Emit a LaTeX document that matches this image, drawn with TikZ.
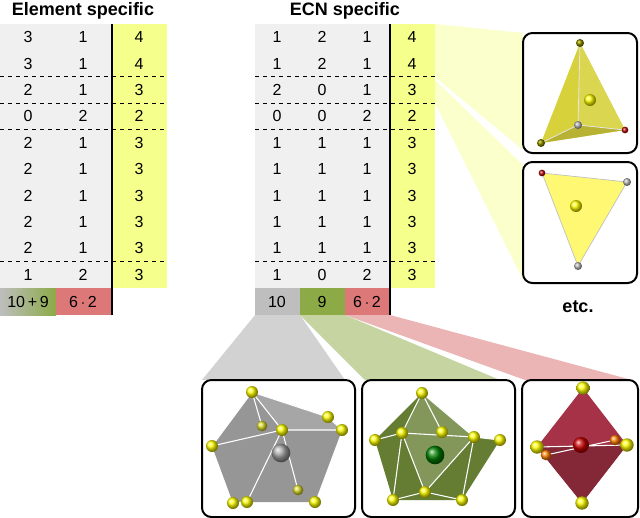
\documentclass[tikz,border=0pt]{standalone}
\usepackage{fontspec}
\setmainfont{Liberation Sans}
\usetikzlibrary{calc}
\definecolor{cellgray}{RGB}{240,240,240}
\definecolor{cellyel}{RGB}{245,255,140}
\definecolor{fgray}{RGB}{190,190,190}
\definecolor{fgreen}{RGB}{140,170,70}
\definecolor{fred}{RGB}{220,120,120}
\definecolor{polygray}{RGB}{150,150,150}
\definecolor{polygreen}{RGB}{100,125,50}
\definecolor{polyred}{RGB}{165,50,70}
\definecolor{tetra}{RGB}{215,210,60}
\tikzset{
  cell/.style={font=\fontsize{12}{14}\selectfont},
  title/.style={font=\bfseries\fontsize{13.5}{16}\selectfont},
  panel/.style={draw=black,line width=1.5pt,rounded corners=7pt,fill=white},
  sep/.style={dashed,line width=0.6pt},
  ball/.style={shading=ball,ball color=#1},
  edge/.style={white,line width=0.8pt}
}
\begin{document}
\begin{tikzpicture}[x=0.75pt,y=-0.75pt]
      \useasboundingbox (0,0) rectangle (640,518);
      % fans
      \fill[cellyel!45] (435,24) -- (523,33) -- (523,150) -- (435,77) -- cycle;
      \fill[cellyel!45] (435,80) -- (523,165) -- (523,280) -- (435,103) -- cycle;
      \fill[fgray!70] (255,315) -- (300,315) -- (345,380) -- (202,380) -- cycle;
      \fill[fgreen!50] (300,315) -- (345,315) -- (500,380) -- (365,380) -- cycle;
      \fill[fred!55] (345,315) -- (390,315) -- (632,380) -- (525,380) -- cycle;
      % element specific table
      \node[title] (t1) at (83,11) {Element specific};
      \fill[cellgray] (0,24) rectangle (112,288);
      \fill[cellyel] (112,24) rectangle (167,288);
      \shade[left color=fgray,right color=fgreen] (0,288) rectangle (56,315);
      \fill[fred] (56,288) rectangle (111,315);
      \foreach \a/\b/\c [count=\i] in {3/1/4,3/1/4,2/1/3,0/2/2,2/1/3,2/1/3,2/1/3,2/1/3,2/1/3,1/2/3}{
        \node[cell] (e\i a) at (28,{24+26.4*(\i-0.5)}) {\a};
        \node[cell] (e\i b) at (83,{24+26.4*(\i-0.5)}) {\b};
        \node[cell] (e\i c) at (139,{24+26.4*(\i-0.5)}) {\c};
      }
      \foreach \k in {2,3,4,9}
        \draw[sep] (0,{24+26.4*\k}) -- (167,{24+26.4*\k});
      \draw[line width=1pt] (112,24) -- (112,315);
      \node[cell] (e10) at (28,301.5) {10\,+\,9};
      \node[cell] (e6) at (83,301.5) {6\,$\cdot$\,2};
      % ECN specific table
      \node[title] (t2) at (345,11) {ECN specific};
      \fill[cellgray] (255,24) rectangle (390,288);
      \fill[cellyel] (390,24) rectangle (435,288);
      \fill[fgray] (255,288) rectangle (300,315);
      \fill[fgreen] (300,288) rectangle (345,315);
      \fill[fred] (345,288) rectangle (390,315);
      \foreach \a/\b/\c/\d [count=\i] in {1/2/1/4,1/2/1/4,2/0/1/3,0/0/2/2,1/1/1/3,1/1/1/3,1/1/1/3,1/1/1/3,1/1/1/3,1/0/2/3}{
        \node[cell] (n\i a) at (277,{24+26.4*(\i-0.5)}) {\a};
        \node[cell] (n\i b) at (322,{24+26.4*(\i-0.5)}) {\b};
        \node[cell] (n\i c) at (367,{24+26.4*(\i-0.5)}) {\c};
        \node[cell] (n\i d) at (412,{24+26.4*(\i-0.5)}) {\d};
      }
      \foreach \k in {2,3,4,9}
        \draw[sep] (255,{24+26.4*\k}) -- (435,{24+26.4*\k});
      \draw[line width=1pt] (390,24) -- (390,315);
      \node[cell] (n10) at (277,301.5) {10};
      \node[cell] (n9) at (322,301.5) {9};
      \node[cell] (n6) at (367,301.5) {6\,$\cdot$\,2};
      % tetrahedron
      \draw[panel] (523,33) rectangle (637,153);
      \fill[tetra] (580,43) -- (541,143) -- (625,130) -- cycle;
      \fill[tetra!85!black] (541,143) -- (578,125) -- (625,130) -- cycle;
      \fill[tetra!90!white] (580,43) -- (578,125) -- (625,130) -- cycle;
      \draw[white!80!gray,line width=0.6pt] (580,43) -- (578,125) (541,143) -- (578,125) -- (625,130);
      \shade[ball=yellow] (590,100) circle[radius=4.5pt];
      \shade[ball=gray!60] (578,125) circle[radius=3pt];
      \shade[ball=olive] (580,43) circle[radius=3pt];
      \shade[ball=olive] (541,143) circle[radius=3pt];
      \shade[ball=red!70!black] (625,130) circle[radius=2.5pt];
      % triangle
      \draw[panel] (523,162) rectangle (637,283);
      \fill[yellow!55] (542,173) -- (627,182) -- (578,266) -- cycle;
      \draw[gray!50,line width=0.5pt] (542,173) -- (627,182) -- (578,266) -- cycle;
      \shade[ball=yellow] (576,206) circle[radius=4.5pt];
      \shade[ball=red!70!black] (542,173) circle[radius=2.5pt];
      \shade[ball=gray!60] (627,182) circle[radius=3pt];
      \shade[ball=gray!60] (578,266) circle[radius=3pt];
      \node[title] (etc) at (578,307) {etc.};
      % gray polyhedron
      \draw[panel] (202,380) rectangle (355,517);
      \fill[polygray] (252,392) -- (328,417) -- (342,430) -- (315,502) -- (247,502) -- (233,503) -- (212,446) -- cycle;
      \fill[polygray!85!white] (252,392) -- (282,430) -- (342,430) -- (328,417) -- cycle;
      \draw[edge] (252,392) -- (328,417) -- (342,430) (252,392) -- (282,430) -- (342,430)
        (212,446) -- (282,430) -- (247,502) (252,392) -- (212,446) (282,430) -- (298,490)
        (247,502) -- (233,503) (252,392) -- (262,426);
      \shade[ball=gray!70] (281,453) circle[radius=7pt];
      \foreach \p in {(252,392),(328,417),(342,430),(212,446),(282,430),(233,503),(247,502),(315,502)}
        \shade[ball=yellow] \p circle[radius=4.5pt];
      \foreach \p in {(262,426),(298,490)}
        \shade[ball=yellow!70!gray] \p circle[radius=4pt];
      % green polyhedron
      \draw[panel] (362,380) rectangle (515,517);
      \fill[polygreen] (422,393) -- (474,437) -- (500,440) -- (462,500) -- (393,500) -- (375,440) -- cycle;
      \fill[polygreen!80!white] (422,393) -- (402,433) -- (425,492) -- (474,437) -- cycle;
      \draw[edge] (422,393) -- (402,433) -- (425,492) -- (474,437) -- cycle
        (375,440) -- (402,433) -- (474,437) -- (500,440) (393,500) -- (425,492) -- (462,500)
        (402,433) -- (393,500) (474,437) -- (462,500) (422,393) -- (442,432);
      \shade[ball=green!50!black] (435,455) circle[radius=7pt];
      \foreach \p in {(422,393),(375,440),(402,433),(442,432),(474,437),(500,440),(393,500),(425,492),(462,500)}
        \shade[ball=yellow] \p circle[radius=4.5pt];
      % red octahedron
      \draw[panel] (522,380) rectangle (638,517);
      \fill[polyred] (583,388) -- (627,445) -- (582,503) -- (537,447) -- cycle;
      \fill[polyred!80!black] (537,447) -- (627,445) -- (582,503) -- cycle;
      \draw[edge] (537,447) -- (627,445) (546,455) -- (615,440);
      \shade[ball=red!80!black] (581,445) circle[radius=6pt];
      \foreach \p in {(546,455),(615,440)}
        \shade[ball=orange] \p circle[radius=4pt];
      \foreach \p in {(583,388),(582,503),(537,447),(627,445)}
        \shade[ball=yellow] \p circle[radius=5pt];
\end{tikzpicture}
\end{document}
